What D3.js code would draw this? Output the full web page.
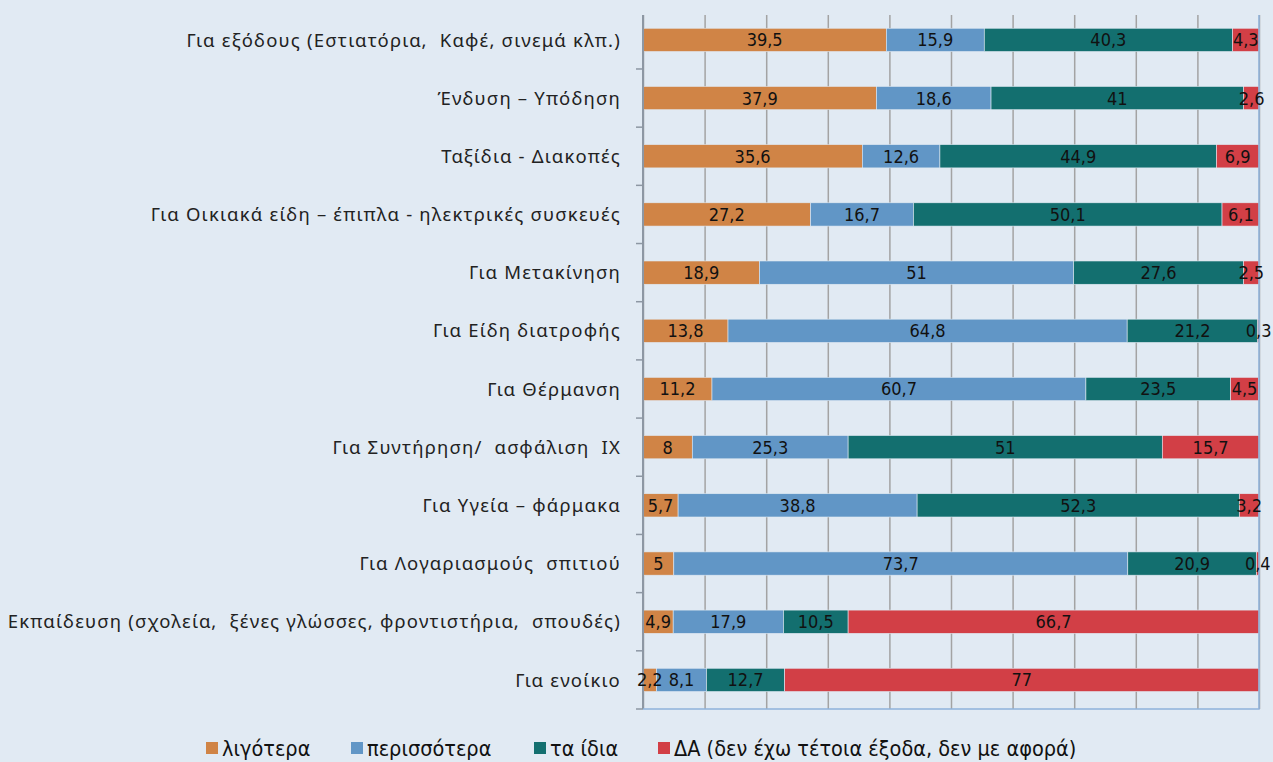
<!DOCTYPE html>
<html lang="el">
<head>
<meta charset="utf-8">
<title>Έξοδα νοικοκυριών</title>
<script src="https://d3js.org/d3.v7.min.js"></script>
<style>
body {
  margin: 0;
  background: #e1eaf3;
}
svg {
  display: block;
}
.cat text {
  font: 18.5px "Noto Sans", sans-serif;
  letter-spacing: 1.2px;
  fill: #222;
  white-space: pre;
}
.lbl {
  font: 18px "DejaVu Sans Condensed", "Roboto", sans-serif;
  fill: #111;
  text-anchor: middle;
}
.legend text {
  font: 21.5px "DejaVu Sans Condensed", sans-serif;
  fill: #111;
}
</style>
</head>
<body>
<svg width="1273" height="762"></svg>
<script>
// categories, top to bottom
var categories = [
  "Για εξόδους (Εστιατόρια,  Καφέ, σινεμά κλπ.)",
  "Ένδυση – Υπόδηση",
  "Ταξίδια - Διακοπές",
  "Για Οικιακά είδη – έπιπλα - ηλεκτρικές συσκευές",
  "Για Μετακίνηση",
  "Για Είδη διατροφής",
  "Για Θέρμανση",
  "Για Συντήρηση/  ασφάλιση  ΙΧ",
  "Για Υγεία – φάρμακα",
  "Για Λογαριασμούς  σπιτιού",
  "Εκπαίδευση (σχολεία,  ξένες γλώσσες, φροντιστήρια,  σπουδές)",
  "Για ενοίκιο"
];

var seriesNames = ["λιγότερα", "περισσότερα", "τα ίδια", "ΔΑ (δεν έχω τέτοια έξοδα, δεν με αφορά)"];
var colors = ["#d08446", "#6196c6", "#136f6f", "#d23f46"];

var less = [39.5, 37.9, 35.6, 27.2, 18.9, 13.8, 11.2, 8, 5.7, 5, 4.9, 2.2];
var more = [15.9, 18.6, 12.6, 16.7, 51, 64.8, 60.7, 25.3, 38.8, 73.7, 17.9, 8.1];
var same = [40.3, 41, 44.9, 50.1, 27.6, 21.2, 23.5, 51, 52.3, 20.9, 10.5, 12.7];
var na   = [4.3, 2.6, 6.9, 6.1, 2.5, 0.3, 4.5, 15.7, 3.2, 0.4, 66.7, 77];

var xTicks = [0, 10, 20, 30, 40, 50, 60, 70, 80, 90, 100];

var svg = d3.select("svg");
var plotL = 643, plotR = 1259, plotT = 10.8, plotB = 709, gridTop = 15;

var x = d3.scaleLinear().domain([0, 100]).range([plotL, plotR]);
var y = d3.scaleBand().domain(categories).range([plotT, plotB])
          .paddingInner(0.6).paddingOuter(0.3);

// one segment per row/series with its start and end
var segs = [];
categories.forEach(function(c, i) {
  var acc = 0;
  [less[i], more[i], same[i], na[i]].forEach(function(v, k) {
    segs.push({ cat: c, k: k, v: v, s: acc, e: acc + v });
    acc += v;
  });
});

// vertical gridlines
var grid = svg.append("g")
    .attr("transform", "translate(0," + plotB + ")")
    .call(d3.axisBottom(x).tickValues(xTicks).tickSize(-(plotB - gridTop)).tickFormat(""));
grid.select(".domain").remove();
grid.selectAll("line").attr("stroke", "#a3a3a3").attr("stroke-width", 1.5);

// stacked bars
svg.append("g").selectAll("rect")
   .data(segs)
   .enter().append("rect")
   .attr("x", function(d) { return x(d.s); })
   .attr("y", function(d) { return y(d.cat); })
   .attr("width", function(d) { return Math.max(0, Math.min(x(d.e), plotR) - x(d.s)); })
   .attr("height", y.bandwidth())
   .attr("fill", function(d) { return colors[d.k]; })
   .attr("stroke", "#e1eaf3")
   .attr("stroke-width", 0.6);

// category axis
var cat = svg.append("g")
    .attr("class", "cat")
    .attr("transform", "translate(" + plotL + ",0)")
    .call(d3.axisLeft(y).tickSize(0).tickPadding(22));
cat.select(".domain").remove();
cat.selectAll("text").attr("dy", "0.36em");

svg.append("line")
   .attr("x1", plotL).attr("x2", plotL)
   .attr("y1", gridTop).attr("y2", plotB)
   .attr("stroke", "#8d97a3").attr("stroke-width", 2);

// boundary ticks between categories
var step = y.step();
svg.selectAll(".bt")
   .data(d3.range(1, categories.length + 1))
   .enter().append("line")
   .attr("x1", plotL - 7).attr("x2", plotL)
   .attr("y1", function(k) { return plotT + k * step; })
   .attr("y2", function(k) { return plotT + k * step; })
   .attr("stroke", "#8d97a3").attr("stroke-width", 1.5);

// right and bottom border
svg.append("path")
   .attr("d", "M" + plotL + "," + plotB + "H" + plotR + "V" + gridTop)
   .attr("fill", "none")
   .attr("stroke", "#8fb2dc")
   .attr("stroke-width", 1.5);

// value labels on top of everything
svg.append("g").selectAll("text")
   .data(segs)
   .enter().append("text")
   .attr("class", "lbl")
   .attr("x", function(d) { return (x(d.s) + x(d.e)) / 2; })
   .attr("y", function(d) { return y(d.cat) + y.bandwidth() / 2; })
   .attr("dy", "0.36em")
   .text(function(d) { return String(d.v).replace(".", ","); });

// legend
var legX = [206, 351, 534, 658];
var leg = svg.append("g").attr("class", "legend");
seriesNames.forEach(function(name, k) {
  leg.append("rect")
     .attr("x", legX[k]).attr("y", 742)
     .attr("width", 12).attr("height", 12)
     .attr("fill", colors[k]);
  leg.append("text")
     .attr("x", legX[k] + 16).attr("y", 748)
     .attr("dy", "0.36em")
     .text(name);
});
</script>
</body>
</html>
